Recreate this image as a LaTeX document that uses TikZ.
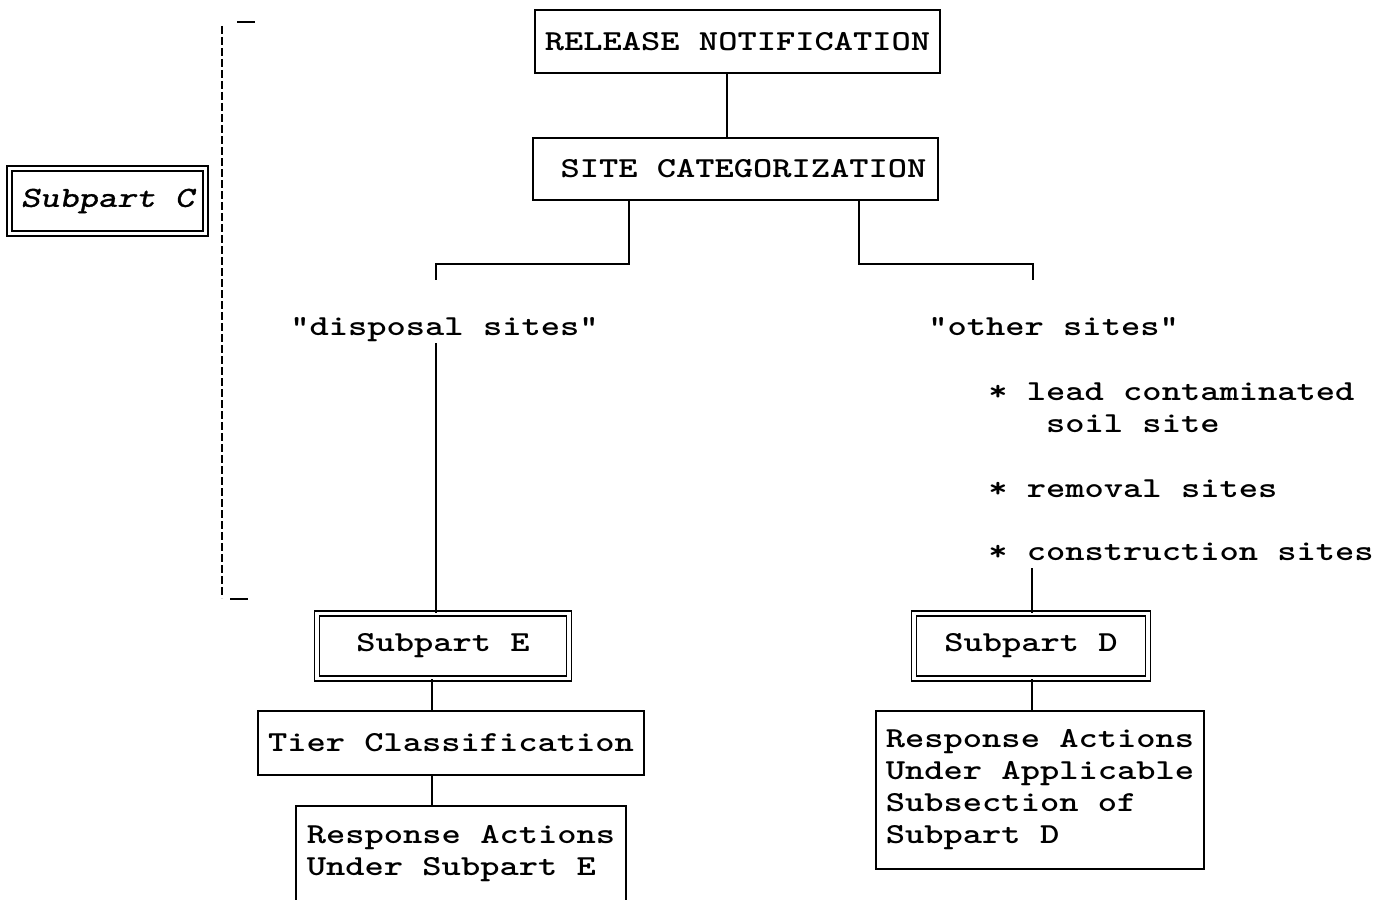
\documentclass[tikz,border=0pt]{standalone}
\usepackage{fontspec}
\newfontfamily\courfont{lmmonolt10-bold.otf}[FakeStretch=1.265]
\newfontfamily\courobl{lmmono10-regular.otf}[FakeStretch=1.265, FakeSlant=0.2, FakeBold=1.2]
\begin{document}
\begin{tikzpicture}[x=0.5pt,y=-0.5pt,
  every node/.style={font=\courfont\fontsize{14.5}{16}\selectfont, inner sep=0pt},
  plainbox/.style={draw, line width=1pt, rectangle},
  dblbox/.style={draw, double, line width=0.8pt, double distance=1.6pt, rectangle},
  txt/.style={anchor=base west},
  conn/.style={line width=1pt}]
\useasboundingbox (0,0) rectangle (1384,899);
\clip (0,0) rectangle (1384,899);
% boxes
\node[plainbox, minimum width=202.5pt, minimum height=31.5pt] (rn) at (737.5,41.5) {RELEASE NOTIFICATION};
\node[plainbox, minimum width=202.5pt, minimum height=31pt] (sc) at (735.5,169) {\hspace*{8pt}SITE CATEGORIZATION};
\node[dblbox, minimum width=98pt, minimum height=32.5pt, font=\courobl\fontsize{14.5}{16}\selectfont] (sub c) at (107.5,201) {Subpart C};
\node[dblbox, minimum width=126pt, minimum height=32.5pt] (se) at (443,646) {Subpart E};
\node[dblbox, minimum width=117pt, minimum height=32.5pt] (sd) at (1031,646) {Subpart D};
\node[plainbox, minimum width=193pt, minimum height=32pt] (tc) at (451,743) {Tier Classification};
\node[plainbox, minimum width=165pt, minimum height=48pt, align=left] (re) at (461,854) {Response Actions\\Under Subpart E};
\node[plainbox, minimum width=164pt, minimum height=79pt, align=left] (rd) at (1040,790) {Response Actions\\Under Applicable\\Subsection of\\Subpart D};
% texts
\node[txt] (ds) at (290,335) {"disposal sites"};
\node[txt] (os) at (928,335) {"other sites"};
\node[txt] (l1) at (988,400) {* lead contaminated};
\node[txt] (l2) at (988,432) {\hphantom{* l}soil site};
\node[txt] (l3) at (988,497) {* removal sites};
\node[txt] (cs) at (988,560) {* construction sites};
% coordinates
\coordinate (xa) at (727,0);
\coordinate (jl) at (629,264);
\coordinate (tl) at (436,280);
\coordinate (jr) at (859,264);
\coordinate (tr) at (1033,280);
\coordinate (xe) at (436,0);
\coordinate (xt) at (432,0);
\coordinate (xd) at (1032,0);
\coordinate (bt) at (222,26);
\coordinate (bb) at (222,598);
\coordinate (tt1) at (237,22);
\coordinate (tt2) at (255,22);
\coordinate (tb1) at (230,599);
\coordinate (tb2) at (248,599);
% connectors
\draw[conn] (rn.south -| xa) -- (sc.north -| xa);
\draw[conn] (sc.south -| jl) -- (jl) -| (tl);
\draw[conn] (sc.south -| jr) -- (jr) -| (tr);
\draw[conn] ([yshift=-4pt]ds.base -| xe) -- (se.north -| xe);
\draw[conn] (se.south -| xt) -- (tc.north -| xt);
\draw[conn] (tc.south -| xt) -- (re.north -| xt);
\draw[conn] ([yshift=-4pt]cs.base -| xd) -- (sd.north -| xd);
\draw[conn] (sd.south -| xd) -- (rd.north -| xd);
% bracket
\draw[line width=1.1pt, dash pattern=on 4pt off 1.5pt] (bt) -- (bb);
\draw[line width=1pt] (tt1) -- (tt2);
\draw[line width=1pt] (tb1) -- (tb2);
\end{tikzpicture}
\end{document}
